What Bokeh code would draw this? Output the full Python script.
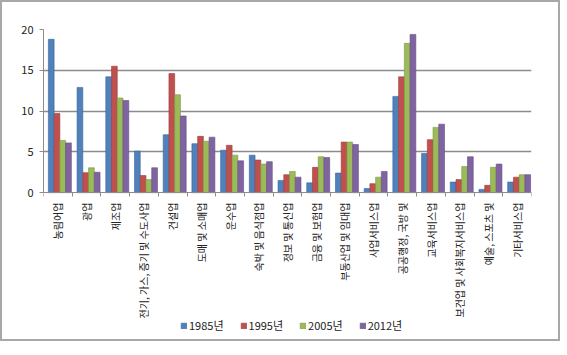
import math
from bokeh.plotting import figure
from bokeh.models import ColumnDataSource, Range1d, FixedTicker, Legend, LegendItem
from bokeh.transform import dodge
from bokeh.embed import file_html
from bokeh.resources import INLINE

categories = ["농림어업", "광업", "제조업", "전기, 가스, 증기 및 수도사업", "건설업",
              "도매 및 소매업", "운수업", "숙박 및 음식점업", "정보 및 통신업",
              "금융 및 보험업", "부동산업 및 임대업", "사업서비스업", "공공행정, 국방 및",
              "교육서비스업", "보건업 및 사회복지서비스업", "예술, 스포츠 및", "기타서비스업"]
y1985 = [18.8, 12.9, 14.2, 5.1, 7.1, 6.0, 5.2, 4.6, 1.5, 1.2, 2.4, 0.5, 11.8, 4.8, 1.3, 0.4, 1.3]
y1995 = [9.7, 2.45, 15.5, 2.1, 14.6, 6.9, 5.8, 4.0, 2.2, 3.1, 6.2, 1.1, 14.2, 6.5, 1.6, 0.9, 1.9]
y2005 = [6.4, 3.05, 11.6, 1.6, 12.0, 6.3, 4.6, 3.5, 2.6, 4.4, 6.2, 1.9, 18.3, 8.0, 3.2, 3.1, 2.2]
y2012 = [6.1, 2.5, 11.3, 3.05, 9.4, 6.8, 3.9, 3.8, 1.9, 4.3, 5.9, 2.6, 19.4, 8.4, 4.4, 3.5, 2.2]
series_names = ["1985년", "1995년", "2005년", "2012년"]
y_ticks = [0, 5, 10, 15, 20]

colors = ["#4F81BD", "#C0504D", "#9BBB59", "#8064A2"]
edges = ["#3A6595", "#98403D", "#7A9645", "#634D80"]
FONT = "Noto Sans CJK KR"

xs = list(range(1, len(categories) + 1))
src = ColumnDataSource(dict(x=xs, s0=y1985, s1=y1995, s2=y2005, s3=y2012))

# the frame extends below zero so that the category labels and legend sit inside it
p = figure(frame_width=488, frame_height=310, output_backend="svg", toolbar_location=None,
           x_range=Range1d(0.5, len(categories) + 0.5), y_range=Range1d(-18, 20),
           min_border_left=41, min_border_right=27, min_border_top=27, min_border_bottom=0,
           styles={"border": "2px solid #a8a8a8"})
p.outline_line_color = None
p.background_fill_color = "white"

offsets = [-0.23, -0.03, 0.17, 0.37]
renderers = []
for i, key in enumerate(["s0", "s1", "s2", "s3"]):
    r = p.vbar(x=dodge("x", offsets[i]), top=key, width=0.2, bottom=0, source=src,
               fill_color=colors[i], line_color=edges[i], line_width=0.6)
    renderers.append(r)

# grid
p.xgrid.visible = False
p.ygrid.grid_line_color = "#8c8c8c"
p.ygrid.grid_line_width = 1.5
p.ygrid.ticker = FixedTicker(ticks=y_ticks[1:])

# y axis
p.yaxis.ticker = FixedTicker(ticks=y_ticks)
p.yaxis.bounds = (y_ticks[0], y_ticks[-1])
p.yaxis.axis_line_color = "#8c8c8c"
p.yaxis.major_tick_line_color = "#8c8c8c"
p.yaxis.major_tick_out = 4
p.yaxis.major_tick_in = 0
p.yaxis.minor_tick_line_color = None
p.yaxis.major_label_text_font = FONT
p.yaxis.major_label_text_font_size = "11px"
p.yaxis.major_label_text_color = "#222222"
p.yaxis.major_label_standoff = 6

# x axis drawn at y = 0
p.xaxis.fixed_location = 0
p.xaxis.ticker = FixedTicker(ticks=xs, minor_ticks=[x + 0.5 for x in [0] + xs])
p.xaxis.major_label_overrides = {x: c for x, c in zip(xs, categories)}
p.xaxis.major_label_orientation = math.pi / 2
p.xaxis.major_label_text_font = FONT
p.xaxis.major_label_text_font_size = "10px"
p.xaxis.major_label_text_color = "#222222"
p.xaxis.major_label_standoff = 6
p.xaxis.major_tick_out = 0
p.xaxis.major_tick_in = 0
p.xaxis.minor_tick_out = 4
p.xaxis.minor_tick_in = 0
p.xaxis.minor_tick_line_color = "#8c8c8c"
p.xaxis.axis_line_color = "#8c8c8c"

legend = Legend(items=[LegendItem(label=series_names[i], renderers=[renderers[i]]) for i in range(4)],
                orientation="horizontal", location=(137, 6),
                glyph_width=7, glyph_height=7, label_standoff=2, spacing=16, padding=0, margin=0,
                label_text_font=FONT, label_text_font_size="11px", label_text_color="#222222",
                border_line_color=None, background_fill_alpha=0)
p.add_layout(legend, "center")

open("out.html", "w").write(file_html(p, INLINE))
